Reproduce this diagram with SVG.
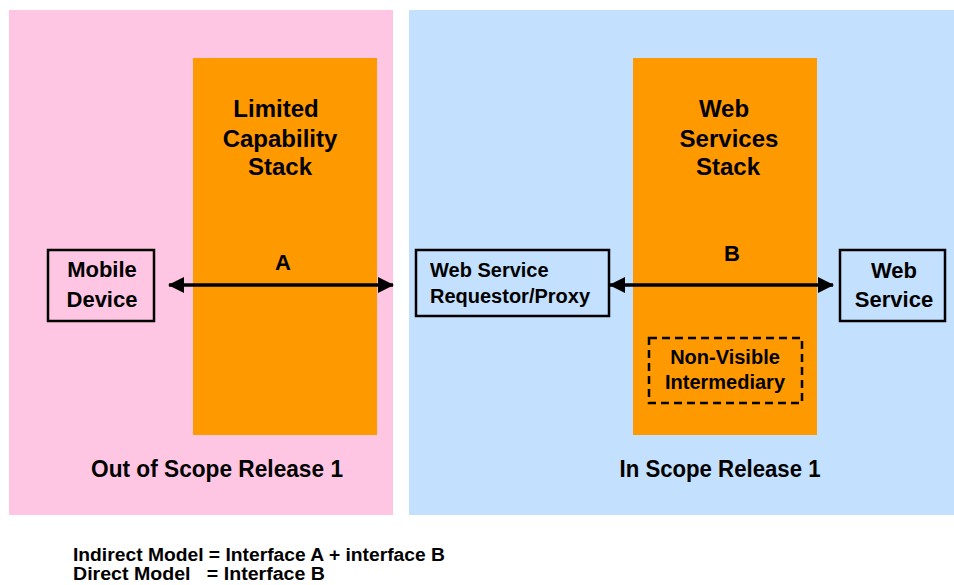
<svg xmlns="http://www.w3.org/2000/svg" width="954" height="585" viewBox="0 0 954 585">
<defs>
<style>
.t{font-family:"Liberation Sans",Arial,sans-serif;font-weight:bold;fill:#000;}
.box{fill:none;stroke:#000;stroke-width:2.5;}
.conn{stroke:#000;stroke-width:3.5;fill:none;}
</style>
<marker id="ah" viewBox="0 0 16 16" refX="15" refY="8" markerWidth="16" markerHeight="16" markerUnits="userSpaceOnUse" orient="auto-start-reverse">
<path d="M0,0 L16,8 L0,16 Z" fill="#000"/>
</marker>
</defs>
<rect width="954" height="585" fill="#fff"/>
<g id="out-of-scope">
<rect x="9" y="10" width="384" height="505" fill="#FFC6E3"/>
<text class="t" x="217" y="477" font-size="23" text-anchor="middle" textLength="252" lengthAdjust="spacingAndGlyphs">Out of Scope Release 1</text>
</g>
<g id="in-scope">
<rect x="409" y="10" width="545" height="505" fill="#C3E0FE"/>
<text class="t" x="720" y="477" font-size="23" text-anchor="middle" textLength="201" lengthAdjust="spacingAndGlyphs">In Scope Release 1</text>
</g>
<g id="limited-stack">
<rect x="193" y="58" width="184" height="377" fill="#FF9900"/>
<text class="t" font-size="24" text-anchor="middle"><tspan x="276" y="117">Limited</tspan><tspan x="280" y="147">Capability</tspan><tspan x="280" y="175">Stack</tspan></text>
</g>
<g id="ws-stack">
<rect x="633" y="58" width="184" height="377" fill="#FF9900"/>
<text class="t" font-size="24" text-anchor="middle"><tspan x="724" y="117">Web</tspan><tspan x="729" y="147">Services</tspan><tspan x="728" y="175">Stack</tspan></text>
</g>
<g id="mobile-device">
<rect class="box" x="48" y="250" width="106" height="71"/>
<text class="t" font-size="22" text-anchor="middle"><tspan x="102" y="277">Mobile</tspan><tspan x="102" y="307">Device</tspan></text>
</g>
<g id="ws-requestor">
<rect class="box" x="416" y="250" width="193" height="66"/>
<text class="t" font-size="20"><tspan x="430" y="277">Web Service</tspan><tspan x="430" y="303">Requestor/Proxy</tspan></text>
</g>
<g id="web-service">
<rect class="box" x="840" y="250" width="105" height="71"/>
<text class="t" font-size="22" text-anchor="middle"><tspan x="894" y="278">Web</tspan><tspan x="894" y="307">Service</tspan></text>
</g>
<g id="intermediary">
<rect x="649" y="338" width="153" height="65" fill="none" stroke="#000" stroke-width="2.5" stroke-dasharray="8,5"/>
<text class="t" font-size="20" text-anchor="middle"><tspan x="725" y="364">Non-Visible</tspan><tspan x="725" y="389">Intermediary</tspan></text>
</g>
<g id="connectors">
<line class="conn" x1="169" y1="285" x2="393" y2="285" marker-start="url(#ah)" marker-end="url(#ah)"/>
<text class="t" x="283" y="270" font-size="22" text-anchor="middle">A</text>
<line class="conn" x1="610" y1="285" x2="833" y2="285" marker-start="url(#ah)" marker-end="url(#ah)"/>
<text class="t" x="732" y="261" font-size="22" text-anchor="middle">B</text>
</g>
<g id="legend">
<text class="t" x="73" y="561" font-size="18" textLength="372" lengthAdjust="spacingAndGlyphs">Indirect Model = Interface A + interface B</text>
<text class="t" x="73" y="580" font-size="18" textLength="252" lengthAdjust="spacingAndGlyphs" xml:space="preserve">Direct Model   = Interface B</text>
</g>
</svg>
